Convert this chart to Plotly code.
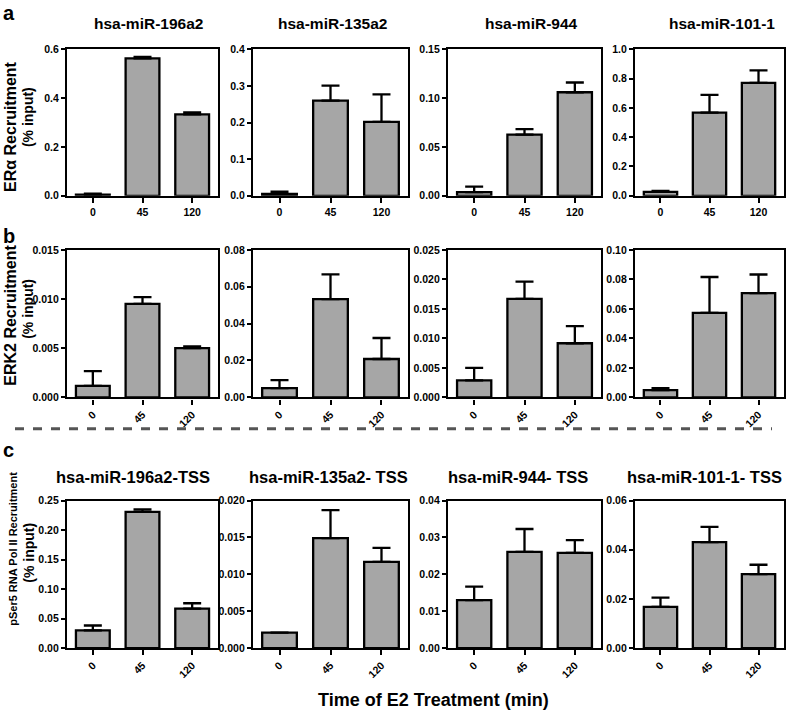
import plotly.graph_objects as go

categories = ["0", "45", "120"]

# Row a: ERα recruitment
titles_a = ["hsa-miR-196a2", "hsa-miR-135a2", "hsa-miR-944", "hsa-miR-101-1"]
vals_a = [[0.005, 0.563, 0.333], [0.005, 0.260, 0.202], [0.0037, 0.0627, 0.106], [0.027, 0.567, 0.771]]
errs_a = [[0.004, 0.006, 0.008], [0.006, 0.041, 0.075], [0.0056, 0.0056, 0.010], [0.006, 0.122, 0.085]]
ymax_a = [0.6, 0.4, 0.15, 1.0]
dtick_a = [0.2, 0.1, 0.05, 0.2]
fmt_a = [".1f", ".1f", ".2f", ".1f"]

# Row b: ERK2 recruitment
vals_b = [[0.00117, 0.0095, 0.0050], [0.0050, 0.0533, 0.0208], [0.00289, 0.0167, 0.00917], [0.0049, 0.0573, 0.0707]]
errs_b = [[0.0015, 0.0007, 0.00017], [0.0043, 0.0134, 0.0114], [0.0021, 0.0029, 0.0029], [0.0013, 0.0243, 0.0126]]
ymax_b = [0.015, 0.08, 0.025, 0.10]
dtick_b = [0.005, 0.02, 0.005, 0.02]
fmt_b = [".3f", ".2f", ".3f", ".2f"]

# Row c: pSer5 RNA Pol II recruitment
titles_c = ["hsa-miR-196a2-TSS", "hsa-miR-135a2- TSS", "hsa-miR-944- TSS", "hsa-miR-101-1- TSS"]
vals_c = [[0.030, 0.231, 0.067], [0.0021, 0.0149, 0.0117], [0.0130, 0.0261, 0.0258], [0.0168, 0.0431, 0.0301]]
errs_c = [[0.0083, 0.004, 0.009], [0.0, 0.0038, 0.0019], [0.0037, 0.0062, 0.0035], [0.0037, 0.0062, 0.0038]]
ymax_c = [0.25, 0.020, 0.04, 0.06]
dtick_c = [0.05, 0.005, 0.01, 0.02]
fmt_c = [".2f", ".3f", ".2f", ".2f"]

W, H = 787, 719
col_px = [(67, 218), (253, 408), (448, 601), (635, 784)]
row_px = [(44, 193), (248, 398), (503, 653)]
title_cx_a = [148, 332, 531, 722]
title_cx_c = [133, 328, 518, 704]

FONT = "Liberation Sans, Arial, sans-serif"
BAR_FILL = "#a6a6a6"

fig = go.Figure()
layout = dict(
    width=W, height=H, margin=dict(l=0, r=0, t=0, b=0),
    paper_bgcolor="white", plot_bgcolor="white", showlegend=False,
    font=dict(family=FONT, color="black", weight="bold"),
)

rows = [
    (vals_a, errs_a, ymax_a, dtick_a, fmt_a, 0),
    (vals_b, errs_b, ymax_b, dtick_b, fmt_b, -45),
    (vals_c, errs_c, ymax_c, dtick_c, fmt_c, -45),
]

annotations = []
shapes = []
k = 0
for r, (vals, errs, ymaxs, dticks, fmts, tangle) in enumerate(rows):
    y0p, y1p = row_px[r]
    for c in range(4):
        k += 1
        xa = "x" if k == 1 else f"x{k}"
        ya = "y" if k == 1 else f"y{k}"
        x0p, x1p = col_px[c]
        fig.add_trace(go.Bar(
            x=[0, 1, 2], y=vals[c], xaxis=xa, yaxis=ya, width=0.68,
            marker=dict(color=BAR_FILL, line=dict(color="black", width=2.3)),
            error_y=dict(type="data", array=errs[c], arrayminus=[0, 0, 0],
                         symmetric=False, color="black", thickness=2.3, width=9),
            hoverinfo="skip",
        ))
        layout["xaxis" if k == 1 else f"xaxis{k}"] = dict(
            domain=[x0p / W, x1p / W], anchor=ya, range=[-0.52, 2.52],
            tickvals=[0, 1, 2], ticktext=categories, tickangle=tangle,
            ticks="outside", ticklen=5, tickwidth=2, tickcolor="black",
            showline=True, linecolor="black", linewidth=2.3, mirror=True,
            showgrid=False, zeroline=False, fixedrange=True,
            tickfont=dict(size=10.5, family=FONT, weight="bold"),
        )
        layout["yaxis" if k == 1 else f"yaxis{k}"] = dict(
            domain=[1 - y1p / H, 1 - y0p / H], anchor=xa, range=[0, ymaxs[c]],
            dtick=dticks[c], tick0=0, tickformat=fmts[c],
            ticks="outside", ticklen=4, tickwidth=2, tickcolor="black",
            showline=True, linecolor="black", linewidth=2.3, mirror=True,
            showgrid=False, zeroline=False, fixedrange=True,
            tickfont=dict(size=10.5, family=FONT, weight="bold"),
        )
        if r == 0:
            annotations.append(dict(
                text=titles_a[c], x=title_cx_a[c] / W, y=1 - 18 / H,
                xref="paper", yref="paper", showarrow=False,
                font=dict(size=15.5, family=FONT, weight="bold"),
                xanchor="center", yanchor="middle"))
        elif r == 2:
            annotations.append(dict(
                text=titles_c[c], x=title_cx_c[c] / W, y=1 - 479 / H,
                xref="paper", yref="paper", showarrow=False,
                font=dict(size=16.5, family=FONT, weight="bold"),
                xanchor="center", yanchor="middle"))

# panel letters
for letter, py in [("a", 7), ("b", 234), ("c", 452)]:
    annotations.append(dict(text=letter, x=1 / W, y=1 - py / H, xref="paper", yref="paper",
                            showarrow=False, xanchor="left", yanchor="middle",
                            font=dict(size=20, family=FONT, weight="bold")))

# y-axis titles (two lines each)
ytitle_lines = [
    ("ERα Recruitment", 11, 123, 16),
    ("(% input)", 28, 113, 14),
    ("ERK2 Recruitment", 11, 315, 16),
    ("(% input)", 28, 308, 14),
    ("pSer5 RNA Pol II Recruitment", 13, 552, 11),
    ("(% input)", 29, 556, 14),
]
for txt, px, py, sz in ytitle_lines:
    annotations.append(dict(text=txt, x=px / W, y=1 - py / H, xref="paper", yref="paper",
                            showarrow=False, textangle=-90, xanchor="center", yanchor="middle",
                            font=dict(size=sz, family=FONT, weight="bold")))

# common x title
annotations.append(dict(text="Time of E2 Treatment (min)", x=433 / W, y=1 - 706 / H,
                        xref="paper", yref="paper", showarrow=False,
                        xanchor="center", yanchor="middle",
                        font=dict(size=18, family=FONT, weight="bold")))

# dashed separator
shapes.append(dict(type="line", xref="paper", yref="paper", x0=15 / W, x1=772 / W,
                   y0=1 - 430 / H, y1=1 - 430 / H,
                   line=dict(color="#555555", width=3, dash="dash")))

layout["annotations"] = annotations
layout["shapes"] = shapes
fig.update_layout(**layout)
fig.write_html("out.html", config={"displayModeBar": False},
               post_script="document.body.style.margin='0';document.body.style.overflow='hidden';")
